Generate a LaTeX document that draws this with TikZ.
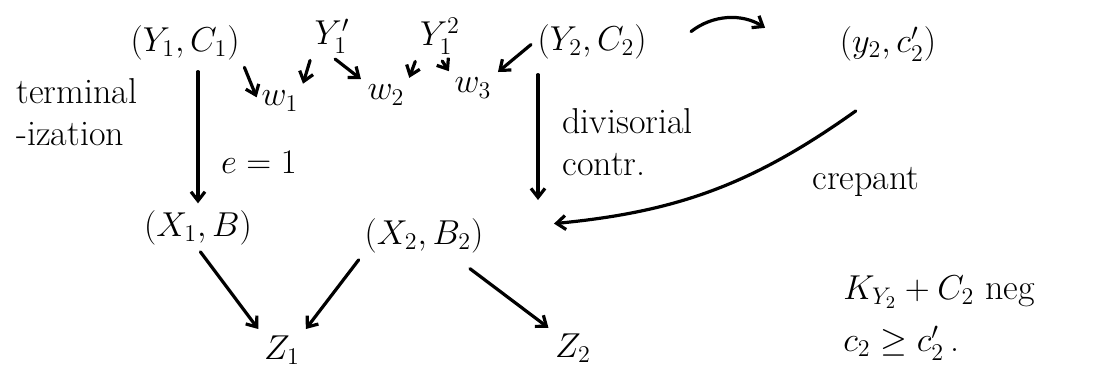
\documentclass[tikz,border=0pt]{standalone}
\usepackage{amsmath}
\usetikzlibrary{arrows.meta}

\begin{document}
\begin{tikzpicture}[x=0.5pt, y=-0.5pt, font=\fontsize{18}{21}\selectfont,
  obj/.style={inner sep=1.5pt},
  lbl/.style={inner sep=1pt, align=left},
  arr/.style={-{Straight Barb[length=4.5pt, width=7pt]}, line width=1.6pt, line cap=round, shorten >=2pt, shorten <=2pt}]
\useasboundingbox (0,0) rectangle (1109,370);
% top row
\node[obj] (yc1) at (185,43) {$(Y_1,C_1)$};
\node[obj] (ya) at (332,36) {$Y_1'$};
\node[obj] (yb) at (440,36) {$Y_1^2$};
\node[obj] (yc2) at (592,42) {$(Y_2,C_2)$};
\node[obj] (yc2p) at (888,44) {$(y_2,c_2')$};
\node[obj] (w1) at (280,101) {$w_1$};
\node[obj] (w2) at (386,95) {$w_2$};
\node[obj] (w3) at (473,88) {$w_3$};
% middle and bottom rows
\node[obj] (x1B) at (198,228) {$(X_1,B)$};
\node[obj] (x2B2) at (424,236) {$(X_2,B_2)$};
\node[obj] (z1) at (282,350) {$Z_1$};
\node[obj] (z2) at (573,348) {$Z_2$};
\coordinate (dctip) at (538,204);
\coordinate (crtip) at (550,224);
% labels
\node[lbl, anchor=west] (term) at (14,112) {terminal\\-ization};
\node[lbl] (e1) at (259,162) {$e=1$};
\node[lbl, anchor=west] (div) at (560,142) {divisorial\\contr.};
\node[lbl] (crep) at (866,182) {crepant};
\node[lbl, anchor=west] (neg) at (841,292) {$K_{Y_2}+C_2$\ neg};
\node[lbl, anchor=west] (ineq) at (841,343) {$c_2\geq c_2'$\,.};
% connectors
\foreach \u/\v in {yc1.south east/w1.west, ya.south west/w1.north east, ya.south/w2.north west,
  yb.south west/w2.north east, yb.south/w3.north west, yc2.west/w3.north east,
  x1B.south/z1.north west, x2B2.south west/z1.north east} \draw[arr] (\u) -- (\v);
\draw[arr, shorten <=4pt] (yc1.south -| x1B.north) -- (x1B.north);
\draw[arr, shorten <=6pt] (yc2.south -| dctip) -- (dctip);
\draw[arr, shorten <=10pt] ([xshift=15]x2B2.south) -- (z2.north west);
\draw[arr] ([shift={(38,-8)}]yc2.east) to[bend left=35] ([shift={(-68,-14)}]yc2p.west);
\draw[arr] ([shift={(-29,44)}]yc2p.south) to[bend left=15] (crtip);
\end{tikzpicture}
\end{document}
